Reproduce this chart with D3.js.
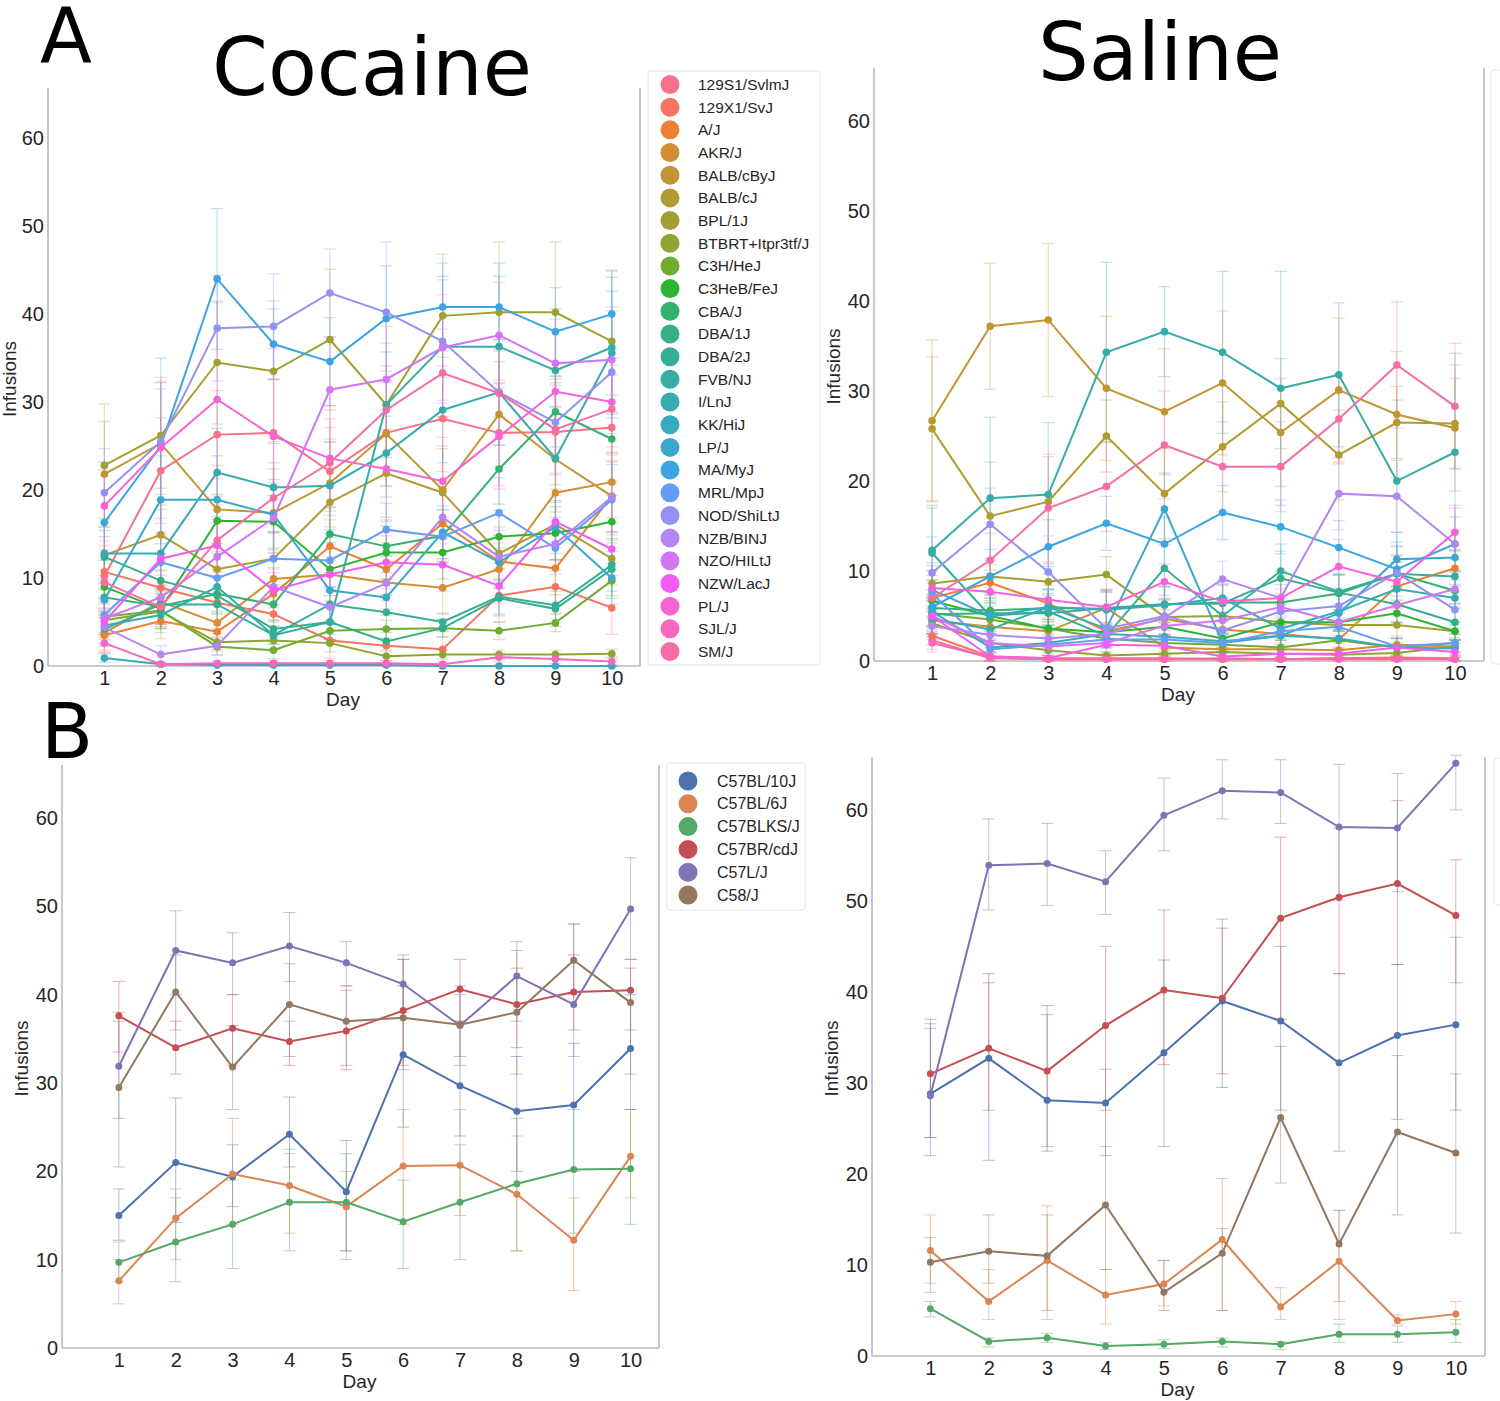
<!DOCTYPE html>
<html>
<head>
<meta charset="utf-8">
<script src="https://cdn.jsdelivr.net/npm/d3@7"></script>
<style>
  body { margin: 0; background: #fff; }
  text { font-family: "Liberation Sans", Arial, sans-serif; fill: #262626; }
  .big { font-family: "DejaVu Sans", sans-serif; fill: #000; }
</style>
</head>
<body>
<div id="chart"></div>
<script>
// ---- data ----
var days = [1, 2, 3, 4, 5, 6, 7, 8, 9, 10];
var yTicks = [0, 10, 20, 30, 40, 50, 60];

var strainsA = ["129S1/SvlmJ", "129X1/SvJ", "A/J", "AKR/J", "BALB/cByJ", "BALB/cJ", "BPL/1J",
  "BTBRT+Itpr3tf/J", "C3H/HeJ", "C3HeB/FeJ", "CBA/J", "DBA/1J", "DBA/2J", "FVB/NJ", "I/LnJ",
  "KK/HiJ", "LP/J", "MA/MyJ", "MRL/MpJ", "NOD/ShiLtJ", "NZB/BINJ", "NZO/HILtJ", "NZW/LacJ",
  "PL/J", "SJL/J", "SM/J"];

// mean infusions per day, one row per strain (same order as strainsA)
var cocaineMeans = [
  [10.2, 22.2, 26.3, 26.5, 22.1, 26.5, 28.1, 26.5, 26.6, 27.1],
  [10.7, 8.9, 7.2, 5.9, 2.9, 2.3, 1.9, 8.0, 9.0, 6.6],
  [3.5, 5.1, 3.9, 8.2, 13.6, 11.0, 16.2, 11.9, 11.1, 19.3],
  [3.8, 7.3, 4.9, 9.9, 10.4, 9.5, 8.9, 11.0, 19.7, 20.9],
  [21.8, 25.3, 17.8, 17.4, 20.8, 26.4, 20.0, 28.6, 23.5, 19.3],
  [12.6, 14.9, 11.0, 12.2, 18.6, 21.9, 19.7, 12.8, 16.1, 12.2],
  [22.8, 26.2, 34.5, 33.5, 37.1, 29.7, 39.8, 40.2, 40.2, 36.9],
  [5.2, 6.2, 2.7, 2.9, 2.6, 1.1, 1.3, 1.3, 1.3, 1.4],
  [5.6, 6.3, 2.2, 1.8, 4.0, 4.2, 4.3, 4.0, 4.9, 9.7],
  [9.0, 6.5, 16.5, 16.4, 11.0, 12.9, 12.9, 14.7, 15.1, 16.4],
  [7.8, 6.8, 8.2, 7.0, 15.0, 13.6, 14.8, 22.4, 28.9, 25.8],
  [12.4, 9.7, 8.0, 4.2, 5.0, 2.8, 4.3, 7.7, 6.5, 11.0],
  [4.2, 7.0, 7.0, 3.5, 7.0, 6.1, 5.0, 7.9, 6.9, 11.5],
  [4.6, 5.8, 9.0, 3.5, 5.0, 29.7, 36.3, 36.3, 33.6, 36.2],
  [12.8, 12.8, 22.0, 20.3, 20.5, 24.2, 29.1, 31.1, 23.6, 35.6],
  [0.9, 0.2, 0.1, 0.1, 0.1, 0.1, 0.0, 0.0, 0.0, 0.0],
  [7.5, 18.9, 18.9, 17.2, 8.6, 7.8, 15.2, 11.8, 15.8, 10.0],
  [16.3, 25.0, 44.0, 36.6, 34.6, 39.5, 40.8, 40.8, 38.0, 40.0],
  [5.8, 11.8, 10.0, 12.2, 12.0, 15.5, 14.7, 17.4, 13.4, 18.9],
  [19.7, 25.5, 38.4, 38.6, 42.4, 40.2, 36.9, 31.1, 27.7, 33.4],
  [4.4, 1.3, 2.3, 9.0, 6.7, 9.4, 16.9, 12.4, 13.9, 19.2],
  [5.4, 7.8, 12.4, 16.8, 31.4, 32.6, 36.2, 37.6, 34.4, 34.8],
  [5.0, 12.2, 13.7, 8.6, 10.4, 11.8, 11.5, 9.1, 16.4, 13.3],
  [18.2, 24.8, 30.3, 26.1, 23.6, 22.4, 21.0, 26.1, 31.2, 30.0],
  [2.6, 0.2, 0.3, 0.3, 0.3, 0.3, 0.2, 1.0, 0.8, 0.5],
  [9.5, 6.7, 14.3, 19.1, 23.1, 29.1, 33.3, 31.0, 26.9, 29.2]
];
// half width of the error bars
var cocaineErr = [
  [4, 6, 5, 6, 5, 6, 6, 6, 6, 6],
  [3, 3, 3, 3, 2, 2, 2, 3, 3, 3],
  [2, 2, 2, 3, 3, 3, 4, 3, 3, 4],
  [2, 3, 2, 3, 3, 3, 3, 3, 4, 4],
  [6, 7, 5, 5, 5, 6, 5, 6, 6, 5],
  [4, 4, 3, 3, 4, 5, 5, 3, 4, 3],
  [7, 6, 7, 8, 8, 7, 7, 8, 8, 8],
  [2, 2, 1, 1, 1, 0.5, 0.5, 0.5, 0.5, 0.5],
  [2, 2, 1, 1, 1, 1, 1, 1, 1, 2],
  [3, 2, 3, 3, 3, 3, 3, 3, 3, 3],
  [2, 2, 2, 2, 3, 3, 3, 4, 4, 5],
  [3, 3, 2, 1, 2, 1, 1, 2, 2, 3],
  [2, 2, 2, 1, 2, 2, 1, 2, 2, 3],
  [2, 2, 2, 1, 2, 6, 8, 8, 7, 8],
  [4, 5, 5, 5, 5, 5, 6, 6, 5, 7],
  [0.5, 0.2, 0.2, 0.2, 0.2, 0.2, 0.1, 0.1, 0.1, 0.1],
  [2, 5, 5, 4, 2, 2, 3, 3, 3, 3],
  [6, 10, 8, 4, 5, 6, 5, 5, 5, 5],
  [2, 3, 3, 3, 3, 3, 3, 4, 3, 4],
  [5, 6, 6, 6, 5, 8, 7, 6, 6, 7],
  [2, 1, 1, 2, 2, 2, 3, 3, 3, 4],
  [2, 3, 4, 4, 6, 6, 6, 6, 5, 6],
  [2, 3, 3, 2, 2, 3, 3, 2, 3, 3],
  [5, 8, 11, 10, 6, 6, 5, 6, 7, 6],
  [1, 0.3, 0.3, 0.3, 0.3, 0.3, 0.3, 0.5, 0.5, 0.5],
  [3, 2, 4, 4, 5, 5, 5, 5, 5, 5]
];

var salineMeans = [
  [2.3, 0.3, 0.2, 0.2, 0.2, 0.2, 0.2, 0.3, 0.3, 0.2],
  [2.8, 0.5, 0.3, 0.3, 0.3, 0.2, 0.2, 0.3, 0.4, 0.3],
  [7.0, 8.7, 6.4, 3.3, 4.7, 3.5, 3.0, 2.4, 8.3, 10.3],
  [4.5, 3.8, 3.3, 5.9, 1.5, 1.3, 1.3, 1.2, 1.8, 1.6],
  [26.7, 37.2, 37.9, 30.3, 27.7, 30.9, 25.4, 30.1, 27.4, 25.9],
  [25.8, 16.1, 17.7, 25.0, 18.6, 23.8, 28.6, 22.9, 26.5, 26.4],
  [8.6, 9.4, 8.8, 9.6, 4.9, 5.0, 4.3, 4.0, 4.0, 3.3],
  [4.2, 2.0, 1.2, 0.6, 0.8, 1.0, 0.8, 0.7, 0.9, 1.6],
  [5.3, 4.6, 3.6, 2.5, 2.0, 1.8, 1.5, 2.3, 1.5, 2.0],
  [6.7, 5.0, 3.6, 3.2, 3.8, 2.5, 4.3, 4.3, 5.3, 3.3],
  [5.9, 5.6, 5.9, 5.8, 6.3, 6.5, 6.5, 7.5, 9.7, 7.8],
  [5.2, 5.3, 5.3, 5.9, 6.3, 6.4, 9.2, 7.6, 6.3, 4.3],
  [12.0, 5.0, 5.5, 2.8, 10.3, 5.0, 10.0, 7.7, 9.7, 9.4],
  [12.3, 18.1, 18.5, 34.3, 36.6, 34.3, 30.3, 31.8, 20.0, 23.2],
  [4.7, 3.5, 6.0, 5.7, 6.2, 7.0, 3.6, 5.5, 8.0, 7.0],
  [5.5, 1.5, 2.0, 3.0, 2.7, 2.2, 2.8, 2.5, 1.5, 1.4],
  [7.9, 5.0, 6.0, 3.6, 16.9, 2.0, 2.8, 5.3, 11.3, 11.5],
  [6.0, 9.4, 12.7, 15.3, 13.0, 16.5, 14.9, 12.6, 10.2, 13.0],
  [7.5, 1.3, 1.8, 2.4, 2.4, 2.0, 3.3, 3.8, 1.6, 2.0],
  [9.8, 15.2, 9.9, 3.6, 5.0, 3.4, 5.5, 6.1, 9.8, 5.7],
  [3.9, 2.9, 2.5, 3.0, 4.8, 9.1, 7.0, 18.6, 18.3, 13.0],
  [5.0, 2.0, 1.6, 2.0, 3.9, 4.5, 6.0, 4.3, 6.2, 8.0],
  [5.0, 0.5, 0.3, 1.8, 1.7, 0.5, 0.8, 0.8, 1.5, 1.0],
  [8.1, 7.7, 6.8, 6.0, 8.8, 6.6, 7.0, 10.5, 8.8, 14.3],
  [2.0, 0.4, 0.2, 0.2, 0.2, 0.3, 0.2, 0.2, 0.2, 0.2],
  [7.0, 11.2, 17.0, 19.4, 24.0, 21.6, 21.6, 26.9, 32.9, 28.3]
];
var salineErr = [
  [1, 0.3, 0.2, 0.2, 0.2, 0.2, 0.2, 0.3, 0.3, 0.2],
  [1, 0.5, 0.3, 0.3, 0.3, 0.2, 0.2, 0.3, 0.4, 0.3],
  [2, 2, 2, 1, 1, 1, 1, 1, 2, 2],
  [1.5, 1.5, 1, 2, 1, 1, 1, 1, 1, 1],
  [9, 7, 8.5, 8, 7, 8, 6, 8, 7, 7],
  [8, 6, 5, 4, 5, 5, 5, 5, 4, 5],
  [2, 2, 2, 2, 2, 2, 2, 2, 2, 1],
  [1.5, 1, 0.6, 0.4, 0.4, 0.5, 0.4, 0.4, 0.5, 0.8],
  [1.5, 1.5, 1, 1, 1, 1, 1, 1, 1, 1],
  [2, 1.5, 1, 1, 1, 1, 1, 1, 1, 1],
  [2, 2, 2, 2, 2, 2, 2, 2, 2, 2],
  [2, 2, 2, 2, 2, 2, 3, 2, 2, 2],
  [5, 2, 2, 1, 3, 2, 3, 2, 3, 3],
  [5, 9, 8, 10, 5, 9, 13, 8, 9, 11],
  [2, 2, 2, 2, 2, 2, 2, 2, 3, 3],
  [2, 1, 1, 1, 1, 1, 1, 1, 1, 1],
  [3, 2, 2, 2, 4, 1, 2, 2, 3, 3],
  [3, 3, 3, 3, 3, 3, 3, 3, 3, 3],
  [2, 1, 1, 1, 1, 1, 1, 1, 1, 1],
  [4, 4, 4, 2, 2, 2, 2, 2, 3, 2],
  [1.5, 1, 1, 1, 2, 2, 3, 4, 4, 4],
  [2, 1, 1, 1, 1, 1, 2, 2, 2, 2],
  [2, 0.5, 0.3, 1, 1, 0.5, 0.5, 0.5, 1, 1],
  [2, 2, 2, 2, 2, 2, 2, 3, 3, 3],
  [1, 0.4, 0.2, 0.2, 0.2, 0.3, 0.2, 0.2, 0.2, 0.2],
  [3, 3, 6, 5, 6, 5, 5, 5, 7, 7]
];

var strainsB = ["C57BL/10J", "C57BL/6J", "C57BLKS/J", "C57BR/cdJ", "C57L/J", "C58/J"];
var colorsB = ["#4c72b0", "#dd8452", "#55a868", "#c44e52", "#8172b3", "#937860"];

var c57CocaineMeans = [
  [15.0, 21.0, 19.4, 24.2, 17.7, 33.2, 29.7, 26.8, 27.5, 33.9],
  [7.6, 14.7, 19.7, 18.4, 16.0, 20.6, 20.7, 17.4, 12.2, 21.7],
  [9.7, 12.0, 14.0, 16.5, 16.5, 14.3, 16.5, 18.6, 20.2, 20.3],
  [37.6, 34.0, 36.2, 34.7, 35.9, 38.2, 40.6, 38.9, 40.3, 40.5],
  [31.9, 45.0, 43.6, 45.5, 43.6, 41.2, 36.5, 42.1, 38.9, 49.7],
  [29.5, 40.3, 31.8, 38.9, 37.0, 37.4, 36.6, 38.0, 43.9, 39.1]
];
var c57CocaineLo = [
  [12.2, 14.2, 16.0, 20.5, 11.0, 25.0, 24.0, 20.0, 20.0, 27.0],
  [5.0, 10.0, 14.0, 13.0, 11.0, 14.0, 15.0, 11.0, 6.5, 17.0],
  [7.5, 7.5, 9.0, 11.0, 10.0, 9.0, 10.0, 11.0, 13.0, 14.0],
  [33.5, 31.0, 32.0, 32.0, 31.5, 32.0, 37.0, 34.0, 36.0, 36.0],
  [26.0, 40.0, 40.0, 41.5, 41.0, 38.0, 33.0, 37.0, 33.0, 44.0],
  [20.5, 36.0, 27.0, 33.0, 32.0, 31.5, 32.0, 31.0, 40.0, 31.0]
];
var c57CocaineHi = [
  [18.0, 28.3, 23.0, 28.4, 23.5, 41.0, 37.0, 33.0, 34.5, 40.0],
  [10.0, 18.0, 26.0, 22.0, 20.0, 27.0, 27.0, 24.0, 17.0, 27.0],
  [12.0, 17.0, 19.0, 22.5, 22.0, 19.0, 23.0, 26.0, 27.0, 27.0],
  [41.5, 37.0, 40.0, 37.0, 40.5, 44.5, 44.0, 43.0, 44.5, 44.0],
  [37.0, 49.5, 47.0, 49.3, 46.0, 44.0, 40.0, 46.0, 48.0, 55.5],
  [38.0, 44.5, 36.5, 43.5, 41.0, 44.0, 41.0, 45.0, 48.0, 43.0]
];

var c57SalineMeans = [
  [28.8, 32.7, 28.1, 27.8, 33.3, 39.0, 36.8, 32.2, 35.2, 36.4],
  [11.6, 6.0, 10.5, 6.7, 7.9, 12.8, 5.4, 10.4, 3.9, 4.6],
  [5.2, 1.6, 2.0, 1.1, 1.3, 1.6, 1.3, 2.4, 2.4, 2.6],
  [31.0, 33.8, 31.3, 36.3, 40.2, 39.3, 48.1, 50.4, 51.9, 48.4],
  [28.6, 53.9, 54.1, 52.1, 59.4, 62.1, 61.9, 58.1, 58.0, 65.1],
  [10.3, 11.5, 11.0, 16.6, 7.0, 11.3, 26.2, 12.3, 24.6, 22.3]
];
var c57SalineLo = [
  [22.0, 21.5, 22.5, 22.0, 23.0, 29.5, 27.0, 22.5, 26.0, 27.0],
  [8.0, 4.0, 4.0, 3.5, 5.5, 5.0, 4.0, 4.0, 3.5, 3.5],
  [4.3, 1.0, 1.5, 0.7, 0.8, 1.0, 0.7, 1.5, 1.5, 1.5],
  [24.0, 27.0, 23.0, 27.0, 32.0, 31.0, 37.0, 42.0, 43.0, 41.0],
  [24.0, 49.0, 49.5, 48.5, 55.5, 59.0, 58.5, 50.0, 51.0, 60.0],
  [7.0, 8.0, 5.0, 9.5, 5.0, 5.0, 19.0, 6.0, 15.5, 13.5]
];
var c57SalineHi = [
  [36.0, 42.0, 37.5, 31.5, 43.5, 48.0, 45.0, 42.0, 43.0, 46.0],
  [15.5, 9.5, 16.5, 9.5, 10.5, 19.5, 7.5, 16.0, 4.5, 6.0],
  [6.0, 2.0, 2.5, 1.5, 1.8, 2.0, 1.6, 3.5, 3.3, 4.0],
  [37.0, 41.0, 38.5, 45.0, 49.0, 47.0, 57.0, 58.0, 61.0, 54.5],
  [36.5, 59.0, 58.5, 55.5, 63.5, 65.5, 65.5, 65.0, 64.0, 66.0],
  [13.0, 15.5, 15.5, 23.0, 10.5, 14.0, 34.0, 16.0, 33.0, 31.0]
];

// ---- seaborn "husl" palette (hsluv with s=.9, l=.65) ----
var M = [
  [3.240969941904521, -1.537383177570093, -0.498610760293],
  [-0.96924363628087, 1.87596750150772, 0.041555057407175],
  [0.055630079696993, -0.20397695888897, 1.056971514242878]
];
var refU = 0.19783000664283, refV = 0.46831999493879, kappa = 903.2962962, eps = 0.0088564516;

function maxChroma(L, H) {
  var hr = H / 180 * Math.PI;
  var sub1 = Math.pow(L + 16, 3) / 1560896;
  var sub2 = sub1 > eps ? sub1 : L / kappa;
  var best = Infinity;
  M.forEach(function(m) {
    [0, 1].forEach(function(t) {
      var top1 = (284517 * m[0] - 94839 * m[2]) * sub2;
      var top2 = (838422 * m[2] + 769860 * m[1] + 731718 * m[0]) * L * sub2 - 769860 * t * L;
      var bottom = (632260 * m[2] - 126452 * m[1]) * sub2 + 126452 * t;
      var len = (top2 / bottom) / (Math.sin(hr) - (top1 / bottom) * Math.cos(hr));
      if (len >= 0 && len < best) best = len;
    });
  });
  return best;
}

function husl(H, S, L) {
  var C = maxChroma(L, H) / 100 * S;
  var hr = H / 180 * Math.PI;
  var U = Math.cos(hr) * C, V = Math.sin(hr) * C;
  var Y = L <= 8 ? L / kappa : Math.pow((L + 16) / 116, 3);
  var vu = U / (13 * L) + refU, vv = V / (13 * L) + refV;
  var X = 0 - (9 * Y * vu) / ((vu - 4) * vv - vu * vv);
  var Z = (9 * Y - 15 * vv * Y - vv * X) / (3 * vv);
  var rgb = M.map(function(r) {
    var c = r[0] * X + r[1] * Y + r[2] * Z;
    c = c <= 0.0031308 ? 12.92 * c : 1.055 * Math.pow(c, 1 / 2.4) - 0.055;
    return Math.round(Math.max(0, Math.min(1, c)) * 255);
  });
  return d3.rgb(rgb[0], rgb[1], rgb[2]).formatHex();
}

var colorsA = strainsA.map(function(s, i) {
  return husl(((i / strainsA.length + 0.01) % 1) * 359, 90 * 0.99, 65 * 0.99);
});

// ---- drawing ----
var svg = d3.select("#chart").append("svg")
  .attr("width", 1500).attr("height", 1401);
svg.append("rect").attr("width", 1500).attr("height", 1401).attr("fill", "#fff");

function drawPanel(p) {
  var g = svg.append("g");
  var x = d3.scaleLinear().domain([0, 10.5]).range([p.left, p.right]);
  var y = d3.scaleLinear().domain([0, p.yMax]).range([p.bottom, p.top]);

  // spines
  var spine = "#b9b9b9";
  g.append("line").attr("x1", p.left).attr("x2", p.left).attr("y1", p.top).attr("y2", p.bottom)
    .attr("stroke", spine).attr("stroke-width", 1.6);
  g.append("line").attr("x1", p.right).attr("x2", p.right).attr("y1", p.top).attr("y2", p.bottom)
    .attr("stroke", spine).attr("stroke-width", 1.6);
  g.append("line").attr("x1", p.left).attr("x2", p.right).attr("y1", p.bottom).attr("y2", p.bottom)
    .attr("stroke", spine).attr("stroke-width", 1.6);

  var xAxis = g.append("g")
    .attr("transform", "translate(0," + p.bottom + ")")
    .call(d3.axisBottom(x).tickValues(days).tickSize(0).tickPadding(5));
  var yAxis = g.append("g")
    .attr("transform", "translate(" + p.left + ",0)")
    .call(d3.axisLeft(y).tickValues(yTicks).tickSize(0).tickPadding(4));
  [xAxis, yAxis].forEach(function(a) {
    a.select(".domain").remove();
    a.selectAll("text").attr("font-size", 20).attr("font-family", "Liberation Sans, Arial, sans-serif")
      .attr("fill", "#262626");
  });

  g.append("text").attr("x", (p.left + p.right) / 2 - 1).attr("y", p.bottom + 40)
    .attr("text-anchor", "middle").attr("font-size", 19).text("Day");
  g.append("text")
    .attr("transform", "translate(" + p.ylabX + "," + ((p.top + p.bottom) / 2 + 2) + ") rotate(-90)")
    .attr("text-anchor", "middle").attr("font-size", 19).text("Infusions");

  var line = d3.line().x(function(d, i) { return x(days[i]); }).y(function(d) { return y(d); });

  p.means.forEach(function(row, s) {
    var col = p.colors[s];
    var eg = g.append("g").attr("stroke", col).attr("stroke-opacity", p.errOpacity)
      .attr("stroke-width", p.errWidth);
    row.forEach(function(v, i) {
      var lo = p.lo[s][i], hi = p.hi[s][i], cx = x(days[i]);
      eg.append("line").attr("x1", cx).attr("x2", cx).attr("y1", y(lo)).attr("y2", y(hi));
      eg.append("line").attr("x1", cx - p.cap).attr("x2", cx + p.cap).attr("y1", y(lo)).attr("y2", y(lo));
      eg.append("line").attr("x1", cx - p.cap).attr("x2", cx + p.cap).attr("y1", y(hi)).attr("y2", y(hi));
    });
  });
  p.means.forEach(function(row, s) {
    var col = p.colors[s];
    g.append("path").datum(row).attr("d", line).attr("fill", "none")
      .attr("stroke", col).attr("stroke-width", p.lineWidth);
    g.selectAll(null).data(row).enter().append("circle")
      .attr("cx", function(d, i) { return x(days[i]); })
      .attr("cy", function(d) { return y(d); })
      .attr("r", p.dot).attr("fill", col);
  });

  if (p.legend) {
    var L = p.legend;
    g.append("rect").attr("x", L.x).attr("y", L.y).attr("width", L.w).attr("height", L.h)
      .attr("rx", 3).attr("fill", "#fff").attr("stroke", "#e6e6e6");
    p.names.forEach(function(n, i) {
      var cy = L.y0 + i * L.step;
      g.append("circle").attr("cx", L.cx).attr("cy", cy).attr("r", L.r).attr("fill", p.colors[i]);
      g.append("text").attr("x", L.tx).attr("y", cy + L.fs * 0.35).attr("font-size", L.fs)
        .attr("fill", "#262626").text(n);
    });
  }
}

function symLo(m, e) { return m.map(function(r, s) { return r.map(function(v, i) { return Math.max(0, v - e[s][i]); }); }); }
function symHi(m, e) { return m.map(function(r, s) { return r.map(function(v, i) { return v + e[s][i]; }); }); }

// A: cocaine
drawPanel({
  left: 48, right: 640, top: 88, bottom: 666, yMax: 65.7, ylabX: 16,
  means: cocaineMeans, lo: symLo(cocaineMeans, cocaineErr), hi: symHi(cocaineMeans, cocaineErr),
  colors: colorsA, names: strainsA, errOpacity: 0.3, errWidth: 1.3, cap: 6, lineWidth: 2, dot: 3.8,
  legend: { x: 648, y: 71, w: 172, h: 594, y0: 84.5, step: 22.68, cx: 670, r: 9.5, tx: 698, fs: 15.5 }
});
// A: saline
drawPanel({
  left: 874, right: 1484, top: 68, bottom: 661, yMax: 65.9, ylabX: 840,
  means: salineMeans, lo: symLo(salineMeans, salineErr), hi: symHi(salineMeans, salineErr),
  colors: colorsA, names: strainsA, errOpacity: 0.3, errWidth: 1.3, cap: 6, lineWidth: 2, dot: 3.8
});
// B: cocaine
drawPanel({
  left: 62, right: 659, top: 765, bottom: 1348, yMax: 66.0, ylabX: 28,
  means: c57CocaineMeans, lo: c57CocaineLo, hi: c57CocaineHi,
  colors: colorsB, names: strainsB, errOpacity: 0.45, errWidth: 1, cap: 6, lineWidth: 2, dot: 3.5,
  legend: { x: 667, y: 763, w: 138, h: 147, y0: 781, step: 22.8, cx: 688, r: 9.5, tx: 717, fs: 16 }
});
// B: saline
drawPanel({
  left: 872, right: 1485, top: 757, bottom: 1356, yMax: 65.8, ylabX: 838,
  means: c57SalineMeans, lo: c57SalineLo, hi: c57SalineHi,
  colors: colorsB, names: strainsB, errOpacity: 0.45, errWidth: 1, cap: 6, lineWidth: 2, dot: 3.5
});

// legend boxes of the saline panels, cut at the page edge
svg.append("rect").attr("x", 1491).attr("y", 70).attr("width", 100).attr("height", 594)
  .attr("rx", 3).attr("fill", "#fff").attr("stroke", "#e6e6e6");
svg.append("rect").attr("x", 1494).attr("y", 758).attr("width", 100).attr("height", 147)
  .attr("rx", 3).attr("fill", "#fff").attr("stroke", "#e6e6e6");

// titles and panel letters
svg.append("text").attr("class", "big").attr("x", 372).attr("y", 95)
  .attr("text-anchor", "middle").attr("font-size", 80).text("Cocaine");
svg.append("text").attr("class", "big").attr("x", 1160).attr("y", 80)
  .attr("text-anchor", "middle").attr("font-size", 80).text("Saline");
svg.append("text").attr("class", "big").attr("x", 40).attr("y", 62).attr("font-size", 76).text("A");
svg.append("text").attr("class", "big").attr("x", 41).attr("y", 758).attr("font-size", 76).text("B");
</script>
</body>
</html>
